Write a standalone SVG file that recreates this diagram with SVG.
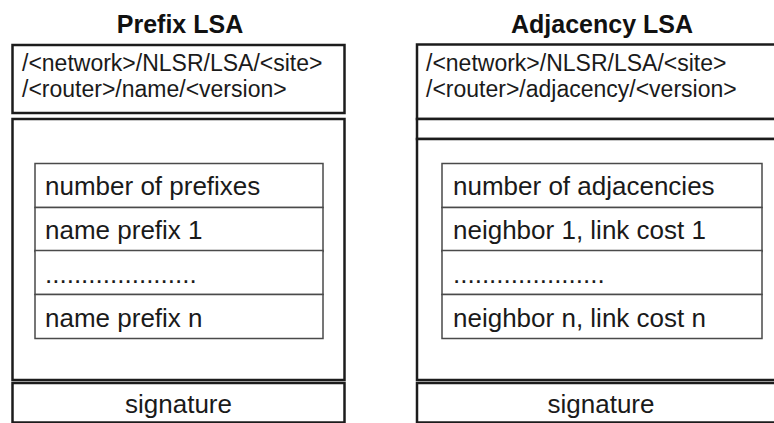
<svg xmlns="http://www.w3.org/2000/svg" width="774" height="423" viewBox="0 0 774 423">
<style>
.bg{fill:#ffffff}
.outer{fill:#ffffff;stroke:#1c1c1c;stroke-width:2.5}
.inner{fill:#ffffff;stroke:#4a4a4a;stroke-width:1.5}
.title{font-family:"Liberation Sans",Arial,sans-serif;font-weight:bold;font-size:25px;fill:#111;text-anchor:middle}
.hdr{font-family:"Liberation Sans",Arial,sans-serif;font-size:23px;fill:#1a1a1a}
.row{font-family:"Liberation Sans",Arial,sans-serif;font-size:26px;fill:#1a1a1a}
.sig{font-family:"Liberation Sans",Arial,sans-serif;font-size:26px;fill:#1a1a1a;text-anchor:middle}
</style>
<rect class="bg" x="0" y="0" width="774" height="423"/>
<g id="prefix-lsa">
  <text class="title" x="180" y="33">Prefix LSA</text>
  <g id="prefix-name">
    <rect class="outer" x="12.5" y="45" width="332" height="68"/>
    <text class="hdr" x="22" y="70.5">/&lt;network&gt;/NLSR/LSA/&lt;site&gt;</text>
    <text class="hdr" x="22" y="96.5">/&lt;router&gt;/name/&lt;version&gt;</text>
  </g>
  <g id="prefix-content">
    <rect class="outer" x="12.5" y="119" width="332" height="261"/>
    <rect class="inner" x="35" y="163.5" width="288" height="44"/>
    <rect class="inner" x="35" y="207.5" width="288" height="44"/>
    <rect class="inner" x="35" y="250.5" width="288" height="44"/>
    <rect class="inner" x="35" y="294.5" width="288" height="44"/>
    <text class="row" x="45" y="195">number of prefixes</text>
    <text class="row" x="45" y="239">name prefix 1</text>
    <text class="row" x="45" y="283">.....................</text>
    <text class="row" x="45" y="327">name prefix n</text>
  </g>
  <g id="prefix-signature">
    <rect class="outer" x="12.5" y="383" width="332" height="39.5"/>
    <text class="sig" x="178.5" y="413">signature</text>
  </g>
</g>
<g id="adjacency-lsa">
  <text class="title" x="602" y="33">Adjacency LSA</text>
  <g id="adjacency-name">
    <rect class="outer" x="417" y="44.5" width="372" height="74.5"/>
    <text class="hdr" x="426" y="70.5">/&lt;network&gt;/NLSR/LSA/&lt;site&gt;</text>
    <text class="hdr" x="426" y="96.5">/&lt;router&gt;/adjacency/&lt;version&gt;</text>
  </g>
  <g id="adjacency-strip">
    <rect class="outer" x="417" y="119" width="372" height="20"/>
  </g>
  <g id="adjacency-content">
    <rect class="outer" x="417" y="139" width="372" height="241"/>
    <rect class="inner" x="442" y="163.5" width="320" height="44"/>
    <rect class="inner" x="442" y="207.5" width="320" height="44"/>
    <rect class="inner" x="442" y="250.5" width="320" height="44"/>
    <rect class="inner" x="442" y="294.5" width="320" height="44"/>
    <text class="row" x="453" y="195">number of adjacencies</text>
    <text class="row" x="453" y="239">neighbor 1, link cost 1</text>
    <text class="row" x="453" y="283">.....................</text>
    <text class="row" x="453" y="327">neighbor n, link cost n</text>
  </g>
  <g id="adjacency-signature">
    <rect class="outer" x="417" y="383" width="372" height="39.5"/>
    <text class="sig" x="601" y="413">signature</text>
  </g>
</g>
<g id="connectors"></g>
</svg>
